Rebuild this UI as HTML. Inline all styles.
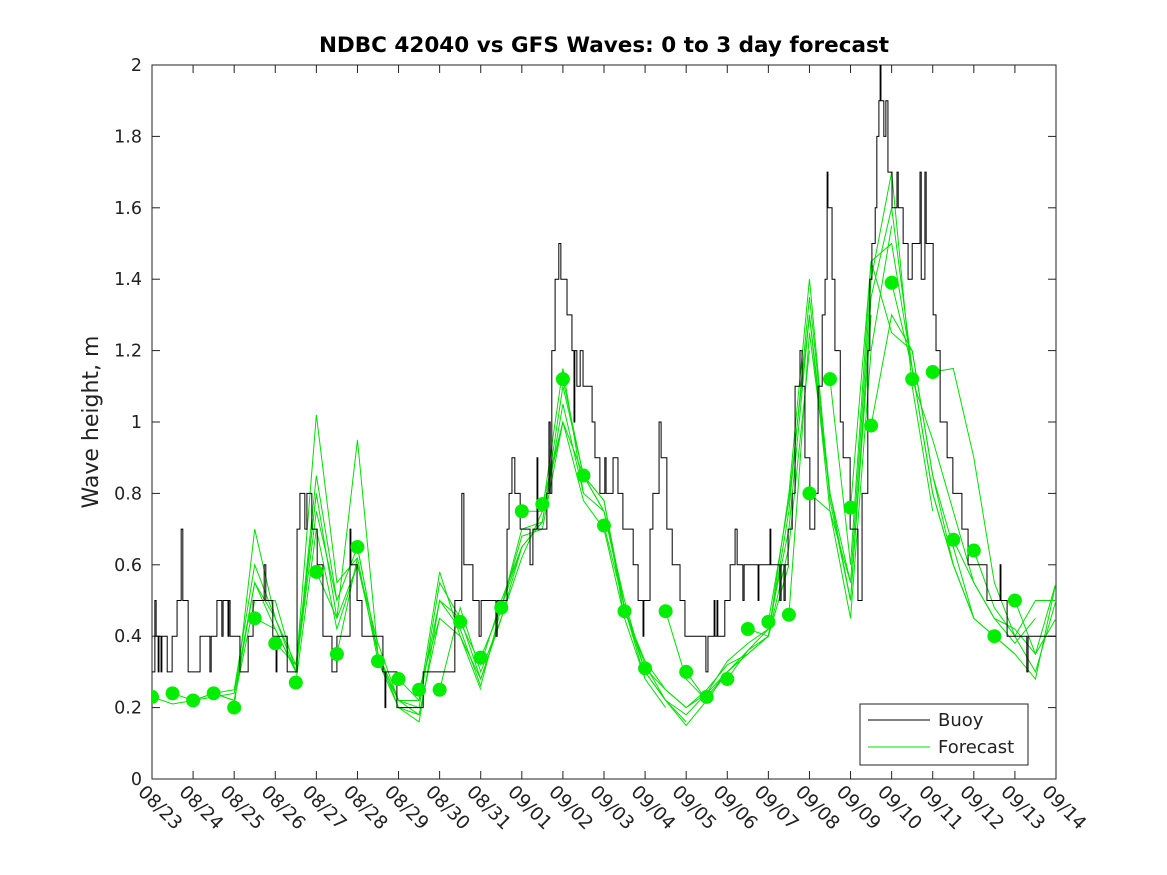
<!DOCTYPE html>
<html><head><meta charset="utf-8"><style>
body{margin:0;background:#fff;}
svg{display:block;font-family:"DejaVu Sans","Liberation Sans",sans-serif;}
</style></head><body>
<svg id="chart" width="1167" height="875">
<rect x="0" y="0" width="1167" height="875" fill="#fff"/>
<text x="604" y="52" text-anchor="middle" font-size="21.5" font-weight="bold" fill="#000">NDBC 42040 vs GFS Waves: 0 to 3 day forecast</text>
<text transform="translate(98,422) rotate(-90)" text-anchor="middle" font-size="22" fill="#222">Wave height, m</text>
<g id="plot"></g>
</svg>
<script>
const dateLabels=["08/23","08/24","08/25","08/26","08/27","08/28","08/29","08/30","08/31","09/01","09/02","09/03","09/04","09/05","09/06","09/07","09/08","09/09","09/10","09/11","09/12","09/13","09/14"];
const yTicks=[0,0.2,0.4,0.6,0.8,1,1.2,1.4,1.6,1.8,2];
// buoy step changes: time (days since 08/23) and value (m)
const buoyT=[0,0.07,0.10,0.15,0.17,0.22,0.24,0.37,0.49,0.61,0.71,0.75,0.88,1.17,1.41,1.44,1.58,1.70,1.73,1.85,1.87,1.90,2.14,2.34,2.46,2.73,2.77,2.94,3.02,3.04,3.29,3.53,3.60,3.72,3.77,3.89,4.02,4.16,4.38,4.50,4.82,4.84,4.99,5.11,5.62,5.67,5.69,5.96,6.60,7.37,7.54,7.59,7.81,7.96,8.01,8.06,8.37,8.40,8.64,8.69,8.76,8.83,8.96,9.20,9.27,9.37,9.39,9.61,9.66,9.69,9.73,9.81,9.90,9.95,10.10,10.22,10.27,10.29,10.34,10.42,10.49,10.71,10.78,10.90,11.02,11.05,11.22,11.34,11.46,11.71,11.83,11.95,11.97,12.12,12.19,12.34,12.39,12.53,12.66,12.85,12.97,13.48,13.53,13.68,13.70,13.75,13.77,13.94,14.07,14.19,14.24,14.38,14.41,14.75,14.77,15.04,15.06,15.28,15.31,15.38,15.41,15.48,15.58,15.65,15.77,15.82,15.89,16.01,16.13,16.21,16.31,16.38,16.43,16.45,16.55,16.62,16.75,16.82,16.99,17.18,17.28,17.42,17.47,17.52,17.60,17.64,17.69,17.72,17.74,17.81,17.86,17.91,18.01,18.13,18.16,18.28,18.40,18.50,18.69,18.72,18.81,18.84,19.01,19.08,19.18,19.35,19.49,19.71,19.86,20.32,20.64,20.66,20.81,21.29,21.32];
const buoyV=[0.3,0.5,0.4,0.3,0.4,0.3,0.4,0.3,0.4,0.5,0.7,0.5,0.3,0.4,0.3,0.4,0.5,0.4,0.5,0.4,0.5,0.4,0.3,0.4,0.5,0.6,0.5,0.4,0.3,0.4,0.3,0.7,0.8,0.7,0.8,0.7,0.6,0.4,0.3,0.4,0.7,0.6,0.5,0.4,0.3,0.2,0.3,0.2,0.3,0.5,0.8,0.6,0.5,0.4,0.5,0.5,0.4,0.5,0.7,0.8,0.9,0.8,0.7,0.6,0.7,0.9,0.7,0.8,1.0,0.8,1.2,1.4,1.5,1.4,1.3,1.2,1.0,1.2,1.1,1.2,1.1,1.0,0.9,0.8,0.9,0.8,0.9,0.8,0.7,0.6,0.5,0.4,0.5,0.7,0.8,1.0,0.9,0.7,0.6,0.5,0.4,0.3,0.4,0.5,0.4,0.5,0.4,0.5,0.6,0.7,0.6,0.5,0.6,0.5,0.6,0.7,0.6,0.5,0.6,0.5,0.6,0.7,0.8,1.1,1.2,1.1,0.9,0.7,0.8,1.1,1.3,1.4,1.7,1.6,1.4,1.2,1.0,0.9,0.7,0.5,0.8,1.2,1.4,1.5,1.6,1.8,1.9,2.0,1.9,1.8,1.9,1.7,1.6,1.7,1.6,1.5,1.4,1.5,1.7,1.4,1.7,1.5,1.3,1.2,1.0,0.9,0.8,0.7,0.6,0.5,0.6,0.5,0.4,0.3,0.4];
// forecast analysis points, every 0.5 day
const dots=[0.23,0.24,0.22,0.24,0.20,0.45,0.38,0.27,0.58,0.35,0.65,0.33,0.28,0.25,0.25,0.44,0.34,0.48,0.75,0.77,1.12,0.85,0.71,0.47,0.31,0.47,0.30,0.23,0.28,0.42,0.44,0.46,0.80,1.12,0.76,0.99,1.39,1.12,1.14,0.67,0.64,0.40,0.50];
// forecast runs (0.5 day step)
const runs=[
[0.23,0.21,0.22,0.24,0.25,0.60,0.45],[0.24,0.22,0.23,0.24,0.55,0.45,0.32],[0.22,0.24,0.22,0.50,0.50,0.30,0.80],
[0.24,0.22,0.55,0.42,0.30,0.85,0.5],[0.20,0.70,0.45,0.30,1.02,0.55,0.62],[0.45,0.42,0.30,0.75,0.50,0.65,0.35],
[0.38,0.32,0.80,0.45,0.95,0.35,0.22],[0.27,0.70,0.42,0.60,0.35,0.20,0.18],[0.58,0.45,0.60,0.38,0.22,0.18,0.45],
[0.35,0.62,0.33,0.20,0.16,0.50,0.45],[0.65,0.35,0.22,0.22,0.58,0.40,0.25],[0.33,0.22,0.20,0.55,0.45,0.28,0.45],
[0.28,0.22,0.50,0.42,0.26,0.48,0.65],[0.25,0.45,0.40,0.28,0.45,0.65,0.72],[0.25,0.48,0.30,0.45,0.62,0.75,1.00],
[0.44,0.32,0.50,0.65,0.72,1.05,0.80],[0.34,0.48,0.68,0.70,1.00,0.85,0.75],[0.48,0.70,0.72,1.10,0.85,0.78,0.45],
[0.75,0.75,1.15,0.80,0.75,0.48,0.28],[0.77,1.0,0.78,0.70,0.45,0.28,0.20],[1.12,0.85,0.75,0.50,0.30,0.22,0.16],
[0.85,0.78,0.48,0.30,0.22,0.15,0.22],[0.71,0.48,0.32,0.22,0.18,0.24,0.30],[0.47,0.33,0.25,0.20,0.25,0.32,0.35],
[0.31,0.25,0.20,0.24,0.33,0.38,0.42],[0.47,0.28,0.22,0.30,0.35,0.40,0.60],[0.30,0.22,0.30,0.35,0.40,0.65,1.2],
[0.23,0.30,0.36,0.42,0.70,1.30,0.80],[0.28,0.36,0.40,0.75,1.35,0.80,0.55],[0.42,0.40,0.80,1.40,0.78,0.50,1.30],
[0.44,0.78,1.30,0.75,0.45,1.20,1.55],[0.46,1.25,0.80,0.50,1.35,1.60,1.15],[0.80,0.75,0.55,1.40,1.70,1.10,0.75],
[1.12,0.60,1.45,1.50,1.15,0.80,0.60],[0.76,1.45,1.25,1.20,0.85,0.65,0.45],[0.99,1.30,1.20,0.85,0.60,0.45,0.40],
[1.39,1.15,0.80,0.60,0.45,0.40,0.35],[1.12,0.95,0.75,0.55,0.45,0.38,0.45],[1.14,1.15,0.90,0.55,0.40,0.50,0.50],
[0.67,0.55,0.45,0.42,0.35,0.55],[0.64,0.48,0.40,0.30,0.50],[0.40,0.35,0.28,0.55],[0.50,0.35,0.45]];

const X0=152,X1=1056,Y0=779,Y1=65,NS="http://www.w3.org/2000/svg";
const xs=d=>X0+d*(X1-X0)/22;
const ys=v=>Y0-v*(Y0-Y1)/2;
const g=document.getElementById('plot');
function mk(t,a,p){const e=document.createElementNS(NS,t);for(const k in a)e.setAttribute(k,a[k]);(p||g).appendChild(e);return e;}

const frame=mk('rect',{x:X0,y:Y1,width:X1-X0,height:Y0-Y1,fill:'#fff',stroke:'#222','stroke-width':1});


const cp=mk('clipPath',{id:'cp'});mk('rect',{x:X0,y:Y1,width:X1-X0,height:Y0-Y1},cp);

yTicks.forEach(v=>{
 mk('line',{x1:X0,x2:X0+8,y1:ys(v),y2:ys(v),stroke:'#222'});
 mk('line',{x1:X1,x2:X1-8,y1:ys(v),y2:ys(v),stroke:'#222'});
 const t=mk('text',{x:X0-10,y:ys(v)+6,'text-anchor':'end','font-size':17.5,fill:'#222'});
 t.textContent=String(v);
 
 
});
dateLabels.forEach((s,i)=>{
 const x=xs(i);
 mk('line',{x1:x,x2:x,y1:Y0,y2:Y0-8,stroke:'#222'});
 mk('line',{x1:x,x2:x,y1:Y1,y2:Y1+8,stroke:'#222'});
 const t=mk('text',{transform:`translate(${x-15},${Y0+14}) rotate(45)`,'font-size':18.5,fill:'#222'});
 t.textContent=s;
 
 
});
const dg=mk('g',{'clip-path':'url(#cp)'});
runs.forEach((r,k)=>{
 const pts=r.map((v,j)=>xs((k+j)*0.5)+','+ys(v)).join(' ');
 const l=mk('polyline',{points:pts,fill:'none',stroke:'#00e000','stroke-width':1},dg);
 
 
});
let bp=[];
buoyV.forEach((v,j)=>{const x=xs(buoyT[j]);if(j>0)bp.push(x+','+ys(buoyV[j-1]));bp.push(x+','+ys(v));});
bp.push(xs(22)+','+ys(buoyV[buoyV.length-1]));
const bl=mk('polyline',{points:bp.join(' '),fill:'none',stroke:'#000','stroke-width':1},dg);


dots.forEach((v,k)=>{
 const c=mk('circle',{cx:xs(k*0.5),cy:ys(v),r:7,fill:'#00ee00'},dg);
 
 
});
const lg=mk('g',{});


mk('rect',{x:860,y:704,width:168,height:61,fill:'#fff',stroke:'#222'},lg);
mk('line',{x1:868,x2:930,y1:720,y2:720,stroke:'#000'},lg);
mk('line',{x1:868,x2:930,y1:747,y2:747,stroke:'#00e000'},lg);
const t1=mk('text',{x:938,y:726,'font-size':18,fill:'#222'},lg);t1.textContent='Buoy';


const t2=mk('text',{x:938,y:753,'font-size':18,fill:'#222'},lg);t2.textContent='Forecast';


</script>
</body></html>
